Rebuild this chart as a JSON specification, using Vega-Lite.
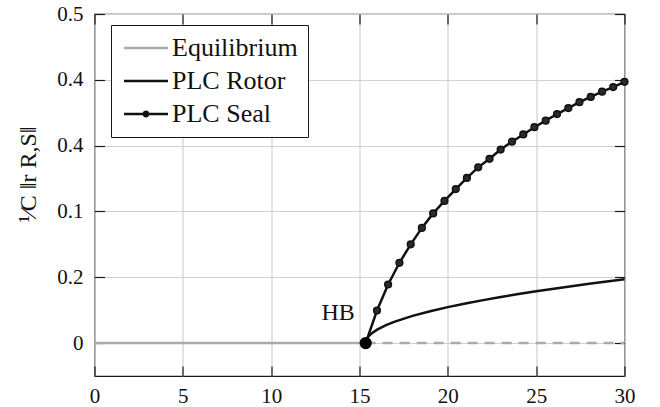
{
  "$schema": "https://vega.github.io/schema/vega-lite/v6.json",
  "width": 530,
  "height": 362,
  "autosize": {"type": "none"},
  "padding": {"left": 94.5, "top": 14, "right": 35.5, "bottom": 31},
  "background": "white",
  "config": {
    "font": "Liberation Serif, serif",
    "view": {"stroke": "#1a1a1a", "strokeWidth": 1.2},
    "text": {"font": "Liberation Serif, serif"},
    "legend": {"labelFont": "Liberation Serif, serif", "titleFont": "Liberation Serif, serif"},
    "axis": {
      "domain": false,
      "tickColor": "#1a1a1a",
      "tickWidth": 1.2,
      "tickSize": -10,
      "labelFont": "Liberation Serif, serif",
      "labelFontSize": 21,
      "labelColor": "#111111",
      "gridColor": "#d0d0d0",
      "gridWidth": 1.2,
      "titleFont": "Liberation Serif, serif",
      "titleColor": "#111111"
    }
  },
  "datasets": {
    "equilibrium": [
      {"x": 0, "y": 0, "stability": "stable"},
      {"x": 15.35, "y": 0, "stability": "stable"},
      {"x": 15.35, "y": 0, "stability": "unstable"},
      {"x": 30, "y": 0, "stability": "unstable"}
    ],
    "rotor": [
      {"x": 15.35, "y": 0},
      {"x": 15.4, "y": 0.0057},
      {"x": 15.5, "y": 0.0098},
      {"x": 15.7, "y": 0.015},
      {"x": 16, "y": 0.0204},
      {"x": 16.5, "y": 0.0272},
      {"x": 17, "y": 0.0326},
      {"x": 18, "y": 0.0413},
      {"x": 19, "y": 0.0484},
      {"x": 20, "y": 0.0546},
      {"x": 21, "y": 0.0602},
      {"x": 22, "y": 0.0653},
      {"x": 23, "y": 0.0701},
      {"x": 24, "y": 0.0745},
      {"x": 25, "y": 0.0787},
      {"x": 26, "y": 0.0827},
      {"x": 27, "y": 0.0865},
      {"x": 28, "y": 0.0901},
      {"x": 29, "y": 0.0936},
      {"x": 30, "y": 0.097}
    ],
    "seal": [
      {"x": 15.35, "y": 0},
      {"x": 15.99, "y": 0.0495},
      {"x": 16.62, "y": 0.089},
      {"x": 17.26, "y": 0.122},
      {"x": 17.9, "y": 0.15},
      {"x": 18.53, "y": 0.175},
      {"x": 19.17, "y": 0.197},
      {"x": 19.81, "y": 0.216},
      {"x": 20.45, "y": 0.234},
      {"x": 21.08, "y": 0.251},
      {"x": 21.72, "y": 0.267},
      {"x": 22.36, "y": 0.28},
      {"x": 22.99, "y": 0.294},
      {"x": 23.63, "y": 0.306},
      {"x": 24.27, "y": 0.317},
      {"x": 24.9, "y": 0.328},
      {"x": 25.54, "y": 0.338},
      {"x": 26.18, "y": 0.348},
      {"x": 26.82, "y": 0.357},
      {"x": 27.45, "y": 0.366},
      {"x": 28.09, "y": 0.374},
      {"x": 28.73, "y": 0.382},
      {"x": 29.36, "y": 0.389},
      {"x": 30, "y": 0.397}
    ],
    "hb": [{"x": 15.35, "y": 0, "label": "HB", "lx": 14.73, "ly": 0.0353}],
    "legend": [
      {"x": -10, "y": -1, "series": "Equilibrium"},
      {"x": -10, "y": -1, "series": "PLC Rotor"},
      {"x": -10, "y": -1, "series": "PLC Seal"}
    ]
  },
  "layer": [
    {
      "encoding": {
        "x": {
          "field": "x", "type": "quantitative",
          "scale": {"domain": [0, 30], "nice": false, "zero": false},
          "axis": {
            "orient": "bottom", "title": null, "values": [0, 5, 10, 15, 20, 25, 30],
            "grid": true, "labelPadding": 19, "labelFlush": false,
            "labelFont": "Liberation Serif, serif", "labelFontSize": 21
          }
        },
        "y": {
          "field": "y", "type": "quantitative",
          "scale": {"domain": [-0.05, 0.5], "nice": false, "zero": false},
          "axis": {
            "orient": "left", "values": [0, 0.1, 0.2, 0.3, 0.4, 0.5],
            "grid": true, "labelPadding": 21.5,
            "labelFont": "Liberation Serif, serif", "labelFontSize": 21,
            "labelExpr": "['0','0.2','0.1','0.4','0.4','0.5'][round(datum.value*10)]",
            "title": "¹⁄C ‖r R,S‖",
            "titleFont": "Liberation Serif, serif",
            "titleFontSize": 24, "titleFontWeight": "normal",
            "titleX": -66, "titleY": 160, "titleAngle": -90,
            "titleAlign": "center", "titleBaseline": "middle"
          }
        }
      },
      "layer": [
        {
          "data": {"name": "equilibrium"},
          "transform": [{"filter": "datum.stability == 'stable'"}],
          "mark": {"type": "line", "color": "#aaaaaa", "strokeWidth": 2.5}
        },
        {
          "data": {"name": "equilibrium"},
          "transform": [{"filter": "datum.stability == 'unstable'"}],
          "mark": {"type": "line", "color": "#aaaaaa", "strokeWidth": 2.5, "strokeDash": [10, 7]}
        },
        {
          "data": {"name": "rotor"},
          "mark": {"type": "line", "color": "#111111", "strokeWidth": 2.5}
        },
        {
          "data": {"name": "seal"},
          "mark": {"type": "line", "color": "#111111", "strokeWidth": 2.5}
        },
        {
          "data": {"name": "seal"},
          "mark": {"type": "point", "shape": "circle", "filled": true, "fill": "#2a2a2a", "stroke": "#111111", "strokeWidth": 1.5, "size": 45, "opacity": 1}
        },
        {
          "data": {"name": "hb"},
          "mark": {"type": "point", "shape": "circle", "filled": true, "color": "#000000", "size": 150, "opacity": 1}
        },
        {
          "data": {"name": "hb"},
          "mark": {"type": "text", "align": "right", "baseline": "alphabetic", "fontSize": 24, "color": "#111111", "font": "Liberation Serif, serif"},
          "encoding": {
            "x": {"field": "lx", "type": "quantitative"},
            "y": {"field": "ly", "type": "quantitative"},
            "text": {"field": "label"}
          }
        },
        {
          "data": {"name": "legend"},
          "mark": {"type": "point", "filled": true, "opacity": 1, "clip": true},
          "encoding": {
            "color": {
              "field": "series", "type": "nominal",
              "scale": {"domain": ["Equilibrium", "PLC Rotor", "PLC Seal"], "range": ["#aaaaaa", "#111111", "#111111"]},
              "legend": {
                "orient": "none", "legendX": 16.5, "legendY": 11, "title": null,
                "strokeColor": "#1a1a1a", "fillColor": "white", "padding": 10,
                "symbolSize": 400, "symbolStrokeWidth": 0, "symbolOpacity": 1,
                "labelFont": "Liberation Serif, serif", "labelFontSize": 26, "labelColor": "#111111",
                "labelOffset": 25, "rowPadding": 7, "labelLimit": 400
              }
            },
            "shape": {
              "field": "series", "type": "nominal",
              "scale": {
                "domain": ["Equilibrium", "PLC Rotor", "PLC Seal"],
                "range": [
                  "M-1,-0.125H3.4V0.125H-1Z",
                  "M-1,-0.125H3.4V0.125H-1Z",
                  "M-1,-0.125H3.4V0.125H-1ZM0.85,0A0.35,0.35 0 1,1 1.55,0A0.35,0.35 0 1,1 0.85,0Z"
                ]
              }
            }
          }
        }
      ]
    },
    {
      "data": {"name": "hb"},
      "mark": {"type": "point", "opacity": 0},
      "encoding": {
        "x": {
          "field": "x", "type": "quantitative",
          "scale": {"domain": [0, 30], "nice": false, "zero": false},
          "axis": {"orient": "top", "title": null, "values": [0, 5, 10, 15, 20, 25, 30], "labels": false, "grid": false}
        },
        "y": {
          "field": "y", "type": "quantitative",
          "scale": {"domain": [-0.05, 0.5], "nice": false, "zero": false},
          "axis": {"orient": "right", "title": null, "values": [0, 0.1, 0.2, 0.3, 0.4, 0.5], "labels": false, "grid": false}
        }
      }
    }
  ],
  "resolve": {"scale": {"x": "independent", "y": "independent"}}
}
